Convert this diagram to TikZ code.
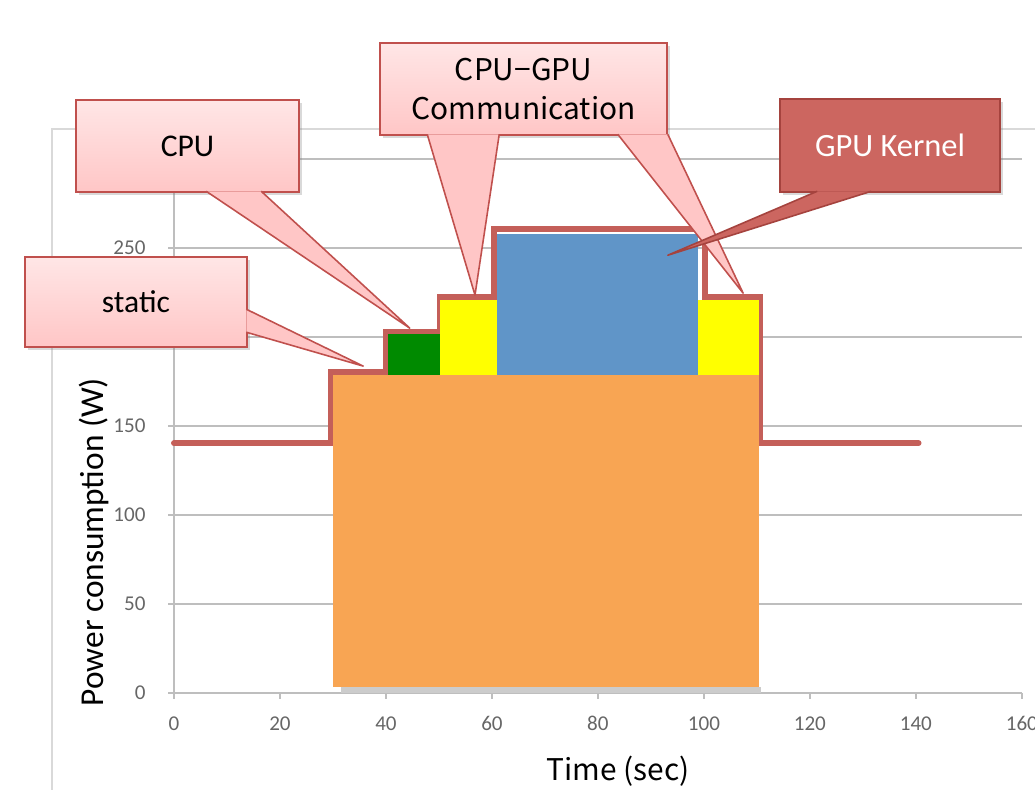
\documentclass[tikz,border=0pt]{standalone}
\usepackage{fontspec}
\setmainfont{Carlito}
\newfontfamily\jpfont{Noto Sans CJK JP}
\usetikzlibrary{calc,shadows}
\definecolor{boxred}{HTML}{C0504D}
\definecolor{pinktop}{HTML}{FFE6E6}
\definecolor{pinkbot}{HTML}{FFC6C6}
\definecolor{kernfill}{HTML}{CC6660}
\definecolor{kernline}{HTML}{A5433E}
\definecolor{powred}{HTML}{C45F59}
\definecolor{gridgray}{HTML}{BEBEBE}
\definecolor{framegray}{HTML}{D9D9D9}
\definecolor{ticklbl}{HTML}{666666}
\definecolor{staticor}{HTML}{F8A553}
\definecolor{cpugreen}{HTML}{008A00}
\definecolor{commyel}{HTML}{FFFF00}
\definecolor{kernblue}{HTML}{6095C8}
% pointer of a callout: style, base point, base point, tip
\newcommand{\callptr}[4]{%
  \path[#1,draw=none] (#2) -- (#4) -- (#3) -- cycle;
  \path[#1,fill=none] (#2) -- (#4) -- (#3);}

\begin{document}
\begin{tikzpicture}[x=0.02cm, y=-0.02cm]
  \tikzset{gridln/.style={draw=gridgray, line width=1pt},
           ticklab/.style={text=ticklbl, font=\fontsize{12}{14}\selectfont},
           powline/.style={draw=powred, line width=3.4pt, line cap=round},
           basebox/.style={line width=0.9pt, inner sep=0pt, align=center,
             drop shadow={opacity=0.3, shadow xshift=1.5pt, shadow yshift=-1.5pt}},
           callbox/.style={basebox, draw=boxred, top color=pinktop, bottom color=pinkbot,
             font=\fontsize{18}{22}\selectfont},
           kernbox/.style={basebox, draw=kernline, fill=kernfill, text=white,
             font=\fontsize{18.5}{22}\selectfont},
           pinkptr/.style={fill=pinkbot, draw=boxred, line width=0.9pt, line join=round},
           kernptr/.style={fill=kernfill, draw=kernline, line width=0.9pt, line join=round}}
  \useasboundingbox (0,0) rectangle (1035,790);
  \draw[framegray, line width=1pt] (52,800) -- (52,129) -- (1040,129);

  \begin{scope}[shift={(174,693)}, x=0.106cm, y=0.0356cm]
    \foreach \w in {50,100,...,300} {
      \draw[gridln] (0,\w) -- (160,\w);
    }
    \foreach \w in {0,50,...,300} {
      \draw[gridln] (-1.1,\w) -- (0,\w);
      \node[ticklab, anchor=east] (ylab\w) at (-4.2,\w) {\w};
    }
    \foreach \t in {0,20,...,160} {
      \draw[gridln] (\t,0) -- (\t,-3.4);
      \node[ticklab] (xlab\t) at (\t,-17) {\t};
    }
    \draw[gridln] (0,0) -- (160,0);
    \draw[gridln] (0,0) -- (0,300);

    \draw[powline] (0,140.4) -- (29.6,140.4) -- (29.6,180.3) -- (40,180.3)
      -- (40,203) -- (50.2,203) -- (50.2,222.5) -- (60.4,222.5) -- (60.4,260.7)
      -- (100.2,260.7) -- (100.2,222.5) -- (110.6,222.5) -- (110.6,140.4) -- (140.5,140.4);

    \fill[gray!40] (31.5,0) rectangle (110.8,3.4);
    \fill[staticor] (30,3.4) rectangle (110.4,178.7);
    \fill[cpugreen] (40.4,178.7) rectangle (50.2,202);
    \fill[commyel] (50.2,178.7) rectangle (60.9,221);
    \fill[kernblue] (60.9,178.7) rectangle (98.9,258);
    \fill[commyel] (98.9,178.7) rectangle (110.4,221);

    \coordinate (staticT) at (35.7,183.7);
    \coordinate (cpuT) at (44.5,205);
    \coordinate (commT) at (56.8,223.6);
    \coordinate (commT2) at (107.4,224.7);
    \coordinate (kernT) at (93.2,246);
  \end{scope}

  \node[rotate=90, font=\fontsize{19}{22}\selectfont] (ylabel) at (94,542) {Power consumption (W)};
  \node[font=\jpfont\fontsize{17}{20}\selectfont] (xlabel) at (618,771) {Time (sec)};

  \node[callbox, minimum width=4.44cm, minimum height=1.8cm] (static) at (136,302) {static};
  \callptr{pinkptr}{$(static.north east)+(-1.5,53)$}{$(static.north east)+(-1.5,76)$}{staticT}
  \node[callbox, minimum width=4.46cm, minimum height=1.84cm] (cpu) at (187.5,146) {CPU};
  \callptr{pinkptr}{$(cpu.south west)+(131,-1.5)$}{$(cpu.south west)+(186,-1.5)$}{cpuT}
  \node[callbox, font=\jpfont\fontsize{17}{22.7}\selectfont,
        minimum width=5.74cm, minimum height=1.84cm] (comm) at (523.5,89) {CPU−GPU\\Communication};
  \callptr{pinkptr}{$(comm.south west)+(48,-1.5)$}{$(comm.south west)+(120,-1.5)$}{commT}
  \callptr{pinkptr}{$(comm.south east)+(-50,-1.5)$}{$(comm.south east)+(0,-1.5)$}{commT2}
  \node[kernbox, minimum width=4.4cm, minimum height=1.86cm] (kern) at (890,145.5) {GPU Kernel};
  \callptr{kernptr}{$(kern.south west)+(38,-1.5)$}{$(kern.south west)+(92,-1.5)$}{kernT}
\end{tikzpicture}
\end{document}
